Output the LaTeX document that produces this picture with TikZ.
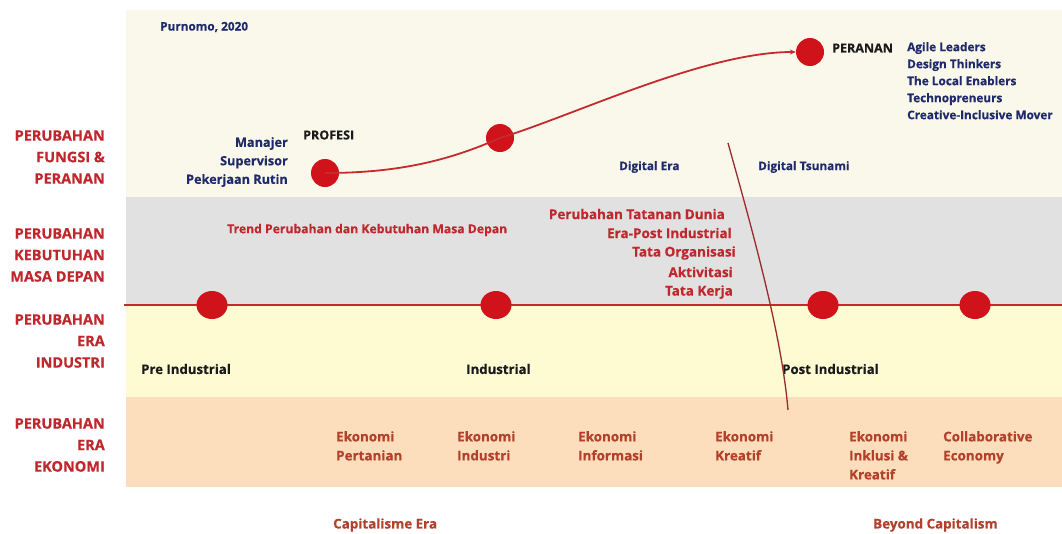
\documentclass[tikz,border=0pt]{standalone}
\usepackage{fontspec}
\setmainfont{Open Sans}[BoldFeatures={FakeBold=0.4}]
\usetikzlibrary{arrows.meta,shapes.geometric}
\definecolor{bandtop}{HTML}{FAF8EA}
\definecolor{bandgray}{HTML}{E1E1E1}
\definecolor{bandyellow}{HTML}{FEFBD3}
\definecolor{bandpeach}{HTML}{FCDDBC}
\definecolor{labelred}{HTML}{C0272D}
\definecolor{ekored}{HTML}{B3402A}
\definecolor{navy}{HTML}{1F2A6B}
\definecolor{dotred}{HTML}{D0121B}
\definecolor{linered}{HTML}{C42A2E}
\definecolor{slashred}{HTML}{9A2A2C}
\definecolor{ink}{HTML}{1A1A1A}
\tikzset{
  rowlabel/.style={inner sep=0pt, anchor=east, align=right, text=labelred,
    font=\bfseries\fontsize{14.5}{21.5}\selectfont},
  navytext/.style={inner sep=0pt, text=navy, font=\bfseries\fontsize{11.8}{17}\selectfont},
  inktext/.style={inner sep=0pt, text=ink, font=\bfseries\fontsize{13.2}{17}\selectfont},
  trendtext/.style={inner sep=0pt, text=labelred, font=\bfseries\fontsize{13.5}{19.5}\selectfont},
  ekotext/.style={inner sep=0pt, anchor=north west, align=left, text=ekored,
    font=\bfseries\fontsize{13.4}{19}\selectfont},
  dot/.style={circle, fill=dotred, draw=none, minimum size=28pt, inner sep=0pt},
  eradot/.style={ellipse, fill=dotred, draw=none, minimum width=31pt, minimum height=28pt, inner sep=0pt},
  curve/.style={draw=linered, line width=1.8pt},
}
\begin{document}
\begin{tikzpicture}[x=1pt,y=-1pt]
\useasboundingbox (0,0) rectangle (1062,533);
\fill[white] (0,0) rectangle (1062,533);

% background bands
\fill[bandtop]    (126,10)  rectangle (1062,197);
\fill[bandgray]   (126,197) rectangle (1062,305);
\fill[bandyellow] (126,305) rectangle (1062,397);
\fill[bandpeach]  (126,397) rectangle (1062,487);

% row labels
\node[rowlabel] (lab1) at (105,157) {PERUBAHAN\\FUNGSI \&\\PERANAN};
\node[rowlabel] (lab2) at (105,255) {PERUBAHAN\\KEBUTUHAN\\MASA DEPAN};
\node[rowlabel] (lab3) at (105,341) {PERUBAHAN\\ERA\\INDUSTRI};
\node[rowlabel] (lab4) at (105,445) {PERUBAHAN\\ERA\\EKONOMI};

% top band: source and roles
\node[navytext, anchor=west] (src) at (160,27) {Purnomo, 2020};
\node[navytext, anchor=east, align=right, font=\bfseries\fontsize{12.7}{18.5}\selectfont] (old) at (288,162) {Manajer\\Supervisor\\Pekerjaan Rutin};
\node[inktext, anchor=west, font=\bfseries\fontsize{12.5}{17}\selectfont] (profesi) at (303,135) {PROFESI};
\node[inktext, anchor=west, font=\bfseries\fontsize{12.5}{17}\selectfont] (peranan) at (832,48) {PERANAN};
\node[navytext, anchor=north west, align=left] (new) at (907,42) {Agile Leaders\\Design Thinkers\\The Local Enablers\\Technopreneurs\\Creative-Inclusive Mover};
\node[navytext, anchor=west] (digera) at (619,167) {Digital Era};
\node[navytext, anchor=west] (digtsu) at (758,167) {Digital Tsunami};

% role curve
\node[dot] (c1) at (325,173) {};
\node[dot] (c2) at (500,138) {};
\node[dot] (c3) at (810,52) {};
\draw[curve] (c1.center) .. controls (400,173) and (450,160) .. (c2.center);
\draw[curve, -{Stealth[length=6pt,width=5pt]}] (c2.center) .. controls (575,115) and (705,52) .. (c3.west);

% gray band texts
\node[trendtext, anchor=west, font=\bfseries\fontsize{12.2}{19.5}\selectfont] (trend) at (227,230) {Trend Perubahan dan Kebutuhan Masa Depan};
\node[trendtext, anchor=east] (t1) at (725,214) {Perubahan Tatanan Dunia};
\node[trendtext, anchor=east] (t2) at (732,233) {Era-Post Industrial};
\node[trendtext, anchor=east] (t3) at (736,253) {Tata Organisasi};
\node[trendtext, anchor=east] (t4) at (733,272) {Aktivitasi};
\node[trendtext, anchor=east] (t5) at (733,292) {Tata Kerja};

% industrial era axis
\coordinate (axisL) at (124,305);
\coordinate (axisR) at (1062,305);
\draw[draw=linered, line width=2pt] (axisL) -- (axisR);
\node[eradot] (e1) at (212,305) {};
\node[eradot] (e2) at (496,305) {};
\node[eradot] (e3) at (823,305) {};
\node[eradot] (e4) at (975,305) {};

\node[inktext, anchor=west] (pre)  at (141,369) {Pre Industrial};
\node[inktext, anchor=west] (ind)  at (466,369) {Industrial};
\node[inktext, anchor=west] (post) at (782,369) {Post Industrial};

% economy eras
\node[ekotext] (k1) at (336,431) {Ekonomi\\Pertanian};
\node[ekotext] (k2) at (457,431) {Ekonomi\\Industri};
\node[ekotext] (k3) at (578,431) {Ekonomi\\Informasi};
\node[ekotext] (k4) at (715,431) {Ekonomi\\Kreatif};
\node[ekotext] (k5) at (849,431) {Ekonomi\\Inklusi \&\\Kreatif};
\node[ekotext] (k6) at (943,431) {Collaborative\\Economy};

\node[trendtext, text=ekored, anchor=west, font=\bfseries\fontsize{13.4}{19}\selectfont] (cap) at (333,525) {Capitalisme Era};
\node[trendtext, text=ekored, anchor=west, font=\bfseries\fontsize{13.4}{19}\selectfont] (bey) at (873,525) {Beyond Capitalism};

% digital divide
\coordinate (cutT) at (728,143);
\coordinate (cutB) at (788,410);
\draw[draw=slashred, line width=1.3pt] (cutT) .. controls (758,250) and (782,340) .. (cutB);
\end{tikzpicture}
\end{document}
